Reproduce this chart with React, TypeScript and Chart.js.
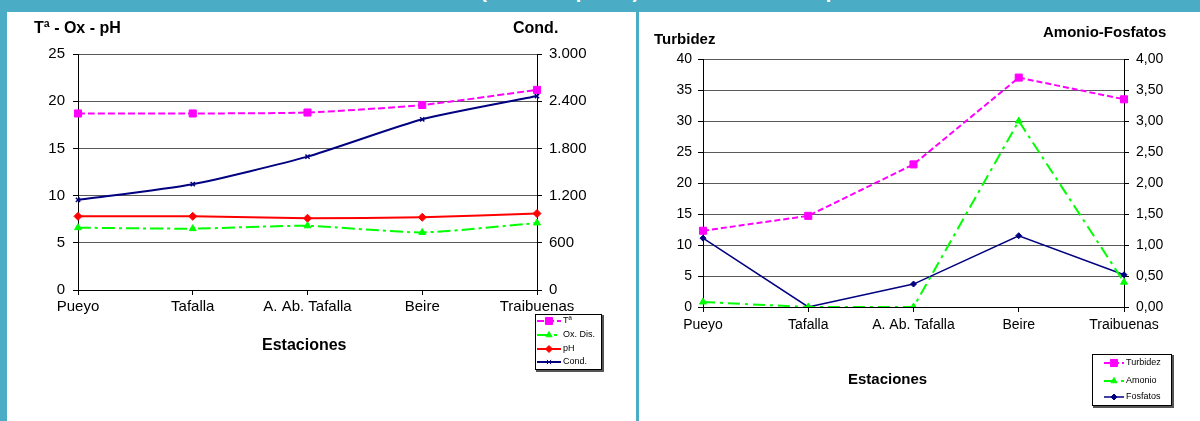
import React, { useEffect, useRef } from 'react';
import { Chart, registerables } from 'chart.js';
import { drawPoint } from 'chart.js/helpers';

Chart.register(...registerables);

const stations = ['Pueyo', 'Tafalla', 'A. Ab. Tafalla', 'Beire', 'Traibuenas'];
const temperatura = [18.7, 18.7, 18.8, 19.6, 21.2];
const oxigeno = [6.6, 6.5, 6.8, 6.1, 7.1];
const ph = [7.8, 7.8, 7.6, 7.7, 8.1];
const conductividad = [1145, 1345, 1695, 2170, 2465];
const turbidez = [12.3, 14.7, 23.0, 37.0, 33.5];
const amonio = [0.08, 0, 0, 3.0, 0.4];
const fosfatos = [1.11, 0, 0.37, 1.15, 0.52];

const FONT = '"Liberation Sans", Arial, sans-serif';

type LegendCfg = {
  x: number; y: number; w: number; h: number;
  rows: number[]; lineX0: number; lineX1: number; textX: number; fontSize: number;
};

function makeLegend(cfg: LegendCfg) {
  return {
    id: 'boxLegend',
    afterDraw(chart: any) {
      const ctx = chart.ctx as CanvasRenderingContext2D;
      ctx.save();
      ctx.fillStyle = '#555';
      ctx.fillRect(cfg.x + 1, cfg.y + 1, cfg.w + 1, cfg.h + 1);
      ctx.fillStyle = '#fff';
      ctx.fillRect(cfg.x, cfg.y, cfg.w, cfg.h);
      ctx.strokeStyle = '#000';
      ctx.lineWidth = 1;
      ctx.strokeRect(cfg.x + 0.5, cfg.y + 0.5, cfg.w - 1, cfg.h - 1);
      chart.data.datasets.forEach((ds: any, i: number) => {
        const ry = cfg.rows[i];
        ctx.strokeStyle = ds.borderColor;
        ctx.lineWidth = ds.borderWidth;
        ctx.setLineDash(ds.borderDash || []);
        ctx.beginPath();
        ctx.moveTo(cfg.lineX0, ry);
        ctx.lineTo(cfg.lineX1, ry);
        ctx.stroke();
        ctx.setLineDash([]);
        ctx.fillStyle = ds.pointBackgroundColor;
        ctx.strokeStyle = ds.pointBorderColor;
        ctx.lineWidth = 1;
        drawPoint(ctx, { pointStyle: ds.pointStyle, radius: ds.legendRadius, borderWidth: 1, rotation: 0 } as any,
          (cfg.lineX0 + cfg.lineX1) / 2, ry);
        ctx.fillStyle = '#000';
        ctx.font = `${cfg.fontSize}px ${FONT}`;
        ctx.textBaseline = 'middle';
        ctx.textAlign = 'left';
        ctx.fillText(ds.label, cfg.textX, ry);
      });
      ctx.restore();
    },
  };
}

function ds(label: string, data: number[], color: string, opts: any) {
  return {
    label,
    data,
    borderColor: color,
    backgroundColor: color,
    pointBackgroundColor: color,
    pointBorderColor: color,
    pointBorderWidth: 1,
    ...opts,
  };
}

function buildOptions(p: {
  leftW: number; rightW: number; top: number; bottom: number; xH: number; fs: number;
  lmax: number; lstep: number; rmax: number; rstep: number; rfmt: (v: number) => string;
  lpad: number; rpad: number; xpad: number;
}) {
  const tickFont = { family: FONT, size: p.fs };
  return {
    responsive: false,
    animation: false as const,
    devicePixelRatio: 1,
    layout: { padding: { top: p.top, bottom: p.bottom, left: 0, right: 0 } },
    plugins: { legend: { display: false }, tooltip: { enabled: false } },
    scales: {
      x: {
        offset: false,
        grid: { drawOnChartArea: false, drawTicks: true, tickLength: 5, tickColor: '#000' },
        border: { color: '#000', width: 1 },
        ticks: { color: '#000', font: tickFont, padding: p.xpad, maxRotation: 0, autoSkip: false },
        afterFit: (s: any) => { s.height = p.xH; },
      },
      y: {
        position: 'left',
        min: 0, max: p.lmax,
        grid: { color: '#5a5a5a', lineWidth: 1, tickLength: 5, tickColor: '#000' },
        border: { color: '#000', width: 1 },
        ticks: { stepSize: p.lstep, color: '#000', font: tickFont, padding: p.lpad },
        afterFit: (s: any) => { s.width = p.leftW; },
      },
      y1: {
        position: 'right',
        min: 0, max: p.rmax,
        grid: { drawOnChartArea: false, tickLength: 5, tickColor: '#000' },
        border: { color: '#000', width: 1 },
        ticks: { stepSize: p.rstep, color: '#000', font: tickFont, padding: p.rpad, callback: (v: any) => p.rfmt(Number(v)) },
        afterFit: (s: any) => { s.width = p.rightW; },
      },
    },
  };
}

const thousands = (v: number) => Math.round(v).toString().replace(/\B(?=(\d{3})+(?!\d))/g, '.');
const comma2 = (v: number) => v.toFixed(2).replace('.', ',');

export default function App() {
  const leftRef = useRef<HTMLCanvasElement>(null);
  const rightRef = useRef<HTMLCanvasElement>(null);

  useEffect(() => {
    const c1 = new Chart(leftRef.current!, {
      type: 'line',
      data: {
        labels: stations,
        datasets: [
          ds('Tª', temperatura, '#FF00FF', { borderWidth: 2, borderDash: [7, 3], pointStyle: 'rect', pointRadius: 5, legendRadius: 5, tension: 0.2, yAxisID: 'y' }),
          ds('Ox. Dis.', oxigeno, '#00FF00', { borderWidth: 2, borderDash: [13, 4, 3, 4], pointStyle: 'triangle', pointRadius: 4, legendRadius: 3.5, tension: 0.2, yAxisID: 'y' }),
          ds('pH', ph, '#FF0000', { borderWidth: 2, pointStyle: 'rectRot', pointRadius: 4, legendRadius: 3.5, tension: 0.2, yAxisID: 'y' }),
          ds('Cond.', conductividad, '#000080', { borderWidth: 2, pointStyle: 'crossRot', pointRadius: 3, pointBorderWidth: 1.5, legendRadius: 3, tension: 0.2, yAxisID: 'y1' }),
        ],
      },
      options: buildOptions({
        leftW: 78, rightW: 99, top: 54, bottom: 91, xH: 40, fs: 15,
        lmax: 25, lstep: 5, rmax: 3000, rstep: 600, rfmt: thousands,
        lpad: 8, rpad: 7, xpad: 3,
      }) as any,
      plugins: [makeLegend({ x: 535, y: 314, w: 67, h: 56, rows: [321, 335, 349, 362], lineX0: 537, lineX1: 561, textX: 563, fontSize: 9 })],
    });

    const c2 = new Chart(rightRef.current!, {
      type: 'line',
      data: {
        labels: stations,
        datasets: [
          ds('Turbidez', turbidez, '#FF00FF', { borderWidth: 2, borderDash: [6, 3], pointStyle: 'rect', pointRadius: 5, legendRadius: 5, tension: 0, yAxisID: 'y' }),
          ds('Amonio', amonio, '#00FF00', { borderWidth: 2, borderDash: [12, 5, 3, 5], pointStyle: 'triangle', pointRadius: 4, legendRadius: 3.5, tension: 0, yAxisID: 'y1' }),
          ds('Fosfatos', fosfatos, '#000080', { borderWidth: 1.5, pointStyle: 'rectRot', pointRadius: 3, legendRadius: 3, tension: 0, yAxisID: 'y1' }),
        ],
      },
      options: buildOptions({
        leftW: 64, rightW: 76, top: 59, bottom: 73, xH: 41, fs: 14,
        lmax: 40, lstep: 5, rmax: 4, rstep: 0.5, rfmt: comma2,
        lpad: 6, rpad: 7, xpad: 5,
      }) as any,
      plugins: [makeLegend({ x: 453, y: 354, w: 80, h: 52, rows: [363, 381, 397], lineX0: 465, lineX1: 485, textX: 487, fontSize: 9 })],
    });

    return () => { c1.destroy(); c2.destroy(); };
  }, []);

  const abs = (s: React.CSSProperties): React.CSSProperties => ({ position: 'absolute', ...s });
  const bold = (size: number): React.CSSProperties => ({ fontFamily: FONT, fontWeight: 'bold', fontSize: size, lineHeight: `${size}px`, color: '#000', whiteSpace: 'nowrap' });

  return (
    <div style={{ position: 'fixed', left: 0, top: 0, width: 1200, height: 421, background: '#4BACC6', overflow: 'hidden' }}>
      <div style={abs({ left: 359, top: -19, ...bold(20), color: '#fff' })}>
        Río Cidacos (Tramo superior) – Evolución de los parámetros
      </div>
      <div style={abs({ left: 7, top: 12, width: 629, height: 409, background: '#fff' })} />
      <div style={abs({ left: 639, top: 12, width: 561, height: 409, background: '#fff' })} />
      <canvas ref={leftRef} width={636} height={421} style={abs({ left: 0, top: 0, width: 636, height: 421 })} />
      <canvas ref={rightRef} width={561} height={421} style={abs({ left: 639, top: 0, width: 561, height: 421 })} />
      <div style={abs({ left: 34, top: 20, ...bold(16) })}>Tª - Ox - pH</div>
      <div style={abs({ left: 513, top: 20, ...bold(16) })}>Cond.</div>
      <div style={abs({ left: 262, top: 337, ...bold(16) })}>Estaciones</div>
      <div style={abs({ left: 654, top: 31, ...bold(15) })}>Turbidez</div>
      <div style={abs({ left: 1043, top: 24, ...bold(15) })}>Amonio-Fosfatos</div>
      <div style={abs({ left: 848, top: 371, ...bold(15) })}>Estaciones</div>
    </div>
  );
}
